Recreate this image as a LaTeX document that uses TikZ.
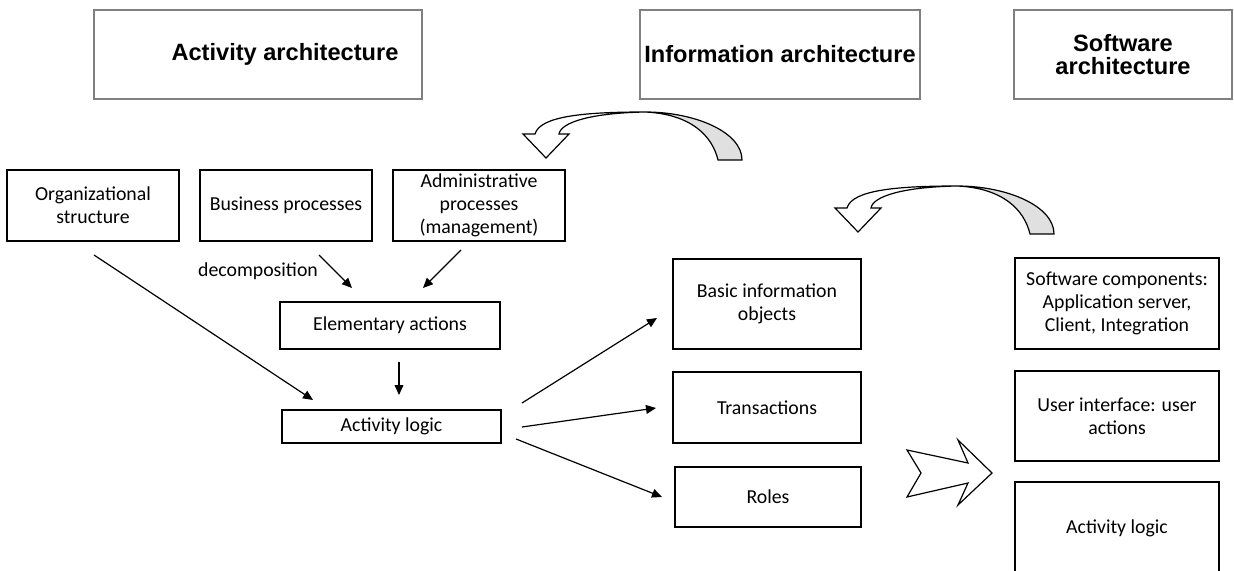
\documentclass[tikz,border=0pt]{standalone}
\usepackage{fontspec}
\setmainfont{Carlito}
\newfontfamily\ttlfont{Liberation Sans}
\usetikzlibrary{arrows.meta}
\definecolor{shadegrey}{HTML}{E0E0E0}
\definecolor{ttlborder}{HTML}{808080}
\begin{document}
\begin{tikzpicture}[x=0.5pt,y=-0.5pt,
  box/.style={draw=black, line width=0.6pt, align=center, inner sep=0pt,
              font=\fontsize{9.9}{11.6}\selectfont},
  ttl/.style={draw=ttlborder, line width=0.6pt, align=center, inner sep=0pt,
              font=\ttlfont\bfseries\fontsize{11.8}{11.9}\selectfont},
  conn/.style={line width=0.6pt, -{Triangle[length=5pt,width=4.4pt]}},
  curvarr/.pic={
    \filldraw[fill=shadegrey, line width=0.6pt]
      (645,112) .. controls (695,112) and (742,132) .. (742,160)
      -- (718,160) .. controls (712,135) and (690,114) .. (645,112) -- cycle;
    \filldraw[fill=white, line width=0.6pt]
      (559,134) -- (569,134) -- (546,158) -- (523,134) -- (535,134)
      .. controls (540,116) and (585,112) .. (645,112)
      .. controls (592,113) and (561,122) .. (559,134) -- cycle;
  }]
\useasboundingbox (0,0) rectangle (1234,571);

% title boxes
\node[ttl, minimum width=164pt, minimum height=44.5pt] (act) at (258,54.5) {\hspace*{27pt}\raisebox{-1pt}{Activity architecture}};
\node[ttl, minimum width=140pt, minimum height=44.5pt] (info) at (780,54.5) {\raisebox{-1pt}{Information architecture}};
\node[ttl, minimum width=109pt, minimum height=44.5pt] (soft) at (1123,54.5) {Software\\architecture};

% curved arrows
\pic at (0,0) {curvarr};
\pic at (312,74) {curvarr};

% activity architecture boxes
\node[box, minimum width=86pt, minimum height=35.5pt] (org) at (93,205.5) {Organizational\\structure};
\node[box, minimum width=86pt, minimum height=35.5pt] (bus) at (286,205.5) {Business processes};
\node[box, minimum width=86pt, minimum height=35.5pt] (adm) at (479,205.5) {Administrative\\processes\\(management)};
\node[box, minimum width=110pt, minimum height=23.5pt] (elem) at (390,325.5) {Elementary actions};
\node[box, minimum width=109.5pt, minimum height=16.5pt] (actl) at (391.5,426.5) {Activity logic};
\node[font=\fontsize{9.9}{11.6}\selectfont, inner sep=0pt] (dec) at (258,271) {decomposition};

% information architecture boxes
\node[box, minimum width=94pt, minimum height=45pt] (bio) at (767,304) {Basic information\\objects};
\node[box, minimum width=94pt, minimum height=35.5pt] (tra) at (767,407.5) {Transactions};
\node[box, minimum width=93pt, minimum height=30pt] (rol) at (768,497) {Roles};

% software architecture boxes
\node[box, minimum width=102pt, minimum height=45.5pt] (swc) at (1117,303.5) {Software components:\\Application server,\\Client, Integration};
\node[box, minimum width=102pt, minimum height=45pt] (ui) at (1117,416) {User interface: user\\actions};
\node[box, minimum width=102pt, minimum height=46pt] (al2) at (1117,528) {Activity logic};

% connector end points
\coordinate (o1) at (94,255);   \coordinate (o2) at (313,400);
\coordinate (b1) at (319,255);  \coordinate (b2) at (352,288);
\coordinate (a1) at (461,250);  \coordinate (a2) at (423,288);
\coordinate (e1) at (399,362);  \coordinate (e2) at (399,395);
\coordinate (l1) at (522,403);  \coordinate (l2) at (657,318);
\coordinate (l3) at (522,427);  \coordinate (l4) at (656,408);
\coordinate (l5) at (516,439);  \coordinate (l6) at (662,497);

\draw[conn] (o1) -- (o2);
\draw[conn] (b1) -- (b2);
\draw[conn] (a1) -- (a2);
\draw[conn] (e1) -- (e2);
\draw[conn] (l1) -- (l2);
\draw[conn] (l3) -- (l4);
\draw[conn] (l5) -- (l6);

% block arrow
\draw[line width=0.6pt, fill=white, line join=miter]
  (907,450) -- (968,463) -- (958,440) -- (992,473) -- (958,505) -- (968,483) -- (907,497) -- (921,473) -- cycle;
\end{tikzpicture}
\end{document}
